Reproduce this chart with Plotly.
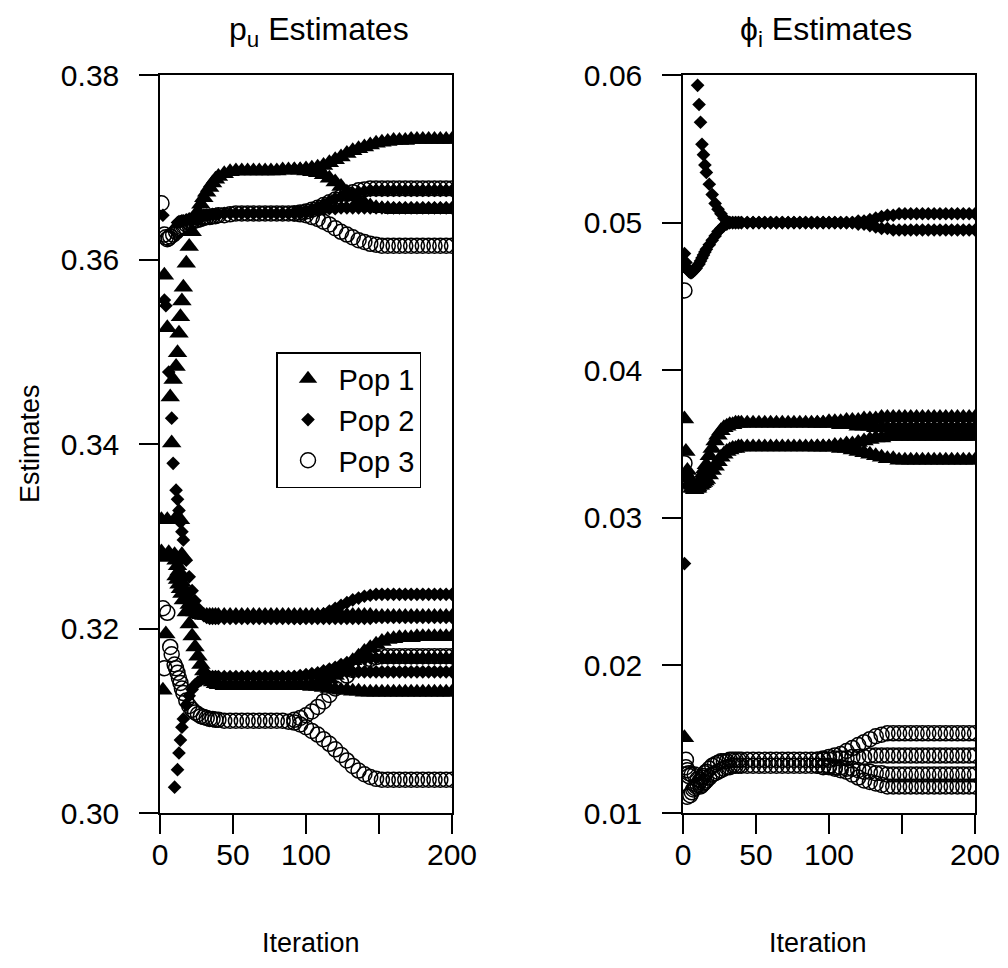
import plotly.graph_objects as go

# ---------------- iteration grids ----------------
TRUNK_IT = [12, 13, 14, 15, 16, 18, 20, 22, 24, 26, 28, 30, 32, 34, 36, 38, 40,
            44, 48, 52, 56, 60, 64, 68, 72, 76, 80, 84, 88]
BRANCH_IT = [92, 96, 100, 104, 108, 112, 116, 120, 124, 128, 132, 136, 140, 144,
             148, 152, 156, 160, 164, 168, 172, 176, 180, 184, 188, 192, 196, 200]

X_TICKS = [0, 50, 100, 150, 200]
X_TICK_TEXT = ["0", "50", "100", "", "200"]
PU_TICKS = [0.30, 0.32, 0.34, 0.36, 0.38]
PU_TICK_TEXT = ["0.30", "0.32", "0.34", "0.36", "0.38"]
PHI_TICKS = [0.01, 0.02, 0.03, 0.04, 0.05, 0.06]
PHI_TICK_TEXT = ["0.01", "0.02", "0.03", "0.04", "0.05", "0.06"]
POP_NAMES = ["Pop 1", "Pop 2", "Pop 3"]

# ---------------- p_u estimates ----------------
# Pop 1
PU_P1_EARLY_IT = [1, 1, 2, 3, 3, 4, 5, 5, 6, 7, 8, 9, 10, 10, 11, 11, 11, 14, 15]
PU_P1_EARLY = [0.3318, 0.3283, 0.3133, 0.3583, 0.3277, 0.3194, 0.3526, 0.3318, 0.3282, 0.3451,
               0.3401, 0.3470, 0.3318, 0.3280, 0.3484, 0.3274, 0.3257, 0.3318, 0.3280]
PU_P1_A_TRUNK = [0.3499, 0.3520, 0.3538, 0.3555, 0.3570, 0.3596, 0.3614, 0.3630, 0.3642, 0.3652,
                 0.3660, 0.3667, 0.3673, 0.3678, 0.3683, 0.3687, 0.3690, 0.3693, 0.3695, 0.3696,
                 0.3696, 0.3696, 0.3696, 0.3696, 0.3696, 0.3696, 0.3696, 0.3697, 0.3697]
PU_P1_A_UP = [0.3697, 0.3697, 0.3698, 0.3699, 0.3700, 0.3702, 0.3705, 0.3708, 0.3711, 0.3715,
              0.3718, 0.3720, 0.3722, 0.3724, 0.3726, 0.3727, 0.3728, 0.3729, 0.3729, 0.3729,
              0.3730, 0.3730, 0.3730, 0.3730, 0.3730, 0.3730, 0.3730, 0.3730]
PU_P1_A_DOWN = [0.3697, 0.3697, 0.3696, 0.3695, 0.3694, 0.3692, 0.3688, 0.3684, 0.3679, 0.3673,
                0.3668, 0.3664, 0.3661, 0.3658, 0.3656, 0.3655, 0.3655, 0.3654, 0.3654, 0.3654,
                0.3654, 0.3654, 0.3654, 0.3654, 0.3654, 0.3654, 0.3654, 0.3654]
PU_P1_B_TRUNK = [0.3268, 0.3262, 0.3256, 0.3250, 0.3244, 0.3234, 0.3226, 0.3221, 0.3218, 0.3216,
                 0.3215, 0.3214, 0.3214, 0.3214, 0.3214, 0.3214, 0.3214, 0.3214, 0.3214, 0.3214,
                 0.3214, 0.3214, 0.3214, 0.3214, 0.3214, 0.3214, 0.3214, 0.3214, 0.3214]
PU_P1_B_FLAT = [0.3214, 0.3214, 0.3214, 0.3214, 0.3214, 0.3214, 0.3214, 0.3214, 0.3214, 0.3214,
                0.3214, 0.3214, 0.3214, 0.3214, 0.3213, 0.3213, 0.3213, 0.3213, 0.3213, 0.3213,
                0.3213, 0.3213, 0.3213, 0.3213, 0.3213, 0.3213, 0.3213, 0.3213]
PU_P1_C_TRUNK = [0.3253, 0.3248, 0.3243, 0.3238, 0.3231, 0.3218, 0.3205, 0.3192, 0.3180, 0.3170,
                 0.3161, 0.3154, 0.3149, 0.3145, 0.3142, 0.3140, 0.3139, 0.3138, 0.3138, 0.3138,
                 0.3138, 0.3138, 0.3138, 0.3138, 0.3138, 0.3138, 0.3138, 0.3138, 0.3138]
PU_P1_C_UP = [0.3138, 0.3138, 0.3138, 0.3139, 0.3140, 0.3142, 0.3145, 0.3149, 0.3154, 0.3159,
              0.3165, 0.3170, 0.3175, 0.3179, 0.3183, 0.3186, 0.3188, 0.3189, 0.3190, 0.3190,
              0.3190, 0.3191, 0.3191, 0.3191, 0.3191, 0.3191, 0.3191, 0.3191]
PU_P1_C_DOWN = [0.3138, 0.3138, 0.3138, 0.3137, 0.3137, 0.3136, 0.3135, 0.3134, 0.3133, 0.3133,
                0.3132, 0.3132, 0.3131, 0.3131, 0.3131, 0.3131, 0.3131, 0.3131, 0.3131, 0.3131,
                0.3131, 0.3131, 0.3131, 0.3131, 0.3131, 0.3131, 0.3131, 0.3131]
# Pop 2
PU_P2_EARLY_IT = [2, 3, 4, 6, 8, 9, 11, 10]
PU_P2_EARLY = [0.3648, 0.3556, 0.3550, 0.3478, 0.3428, 0.3379, 0.3350, 0.3028]
PU_P2_A_TRUNK = [0.3640, 0.3641, 0.3641, 0.3642, 0.3642, 0.3643, 0.3644, 0.3645, 0.3646, 0.3647,
                 0.3647, 0.3648, 0.3648, 0.3648, 0.3649, 0.3649, 0.3649, 0.3650, 0.3650, 0.3650,
                 0.3650, 0.3650, 0.3650, 0.3650, 0.3650, 0.3650, 0.3650, 0.3650, 0.3650]
PU_P2_A_UP = [0.3651, 0.3652, 0.3653, 0.3655, 0.3657, 0.3660, 0.3663, 0.3666, 0.3668, 0.3670,
              0.3672, 0.3673, 0.3674, 0.3675, 0.3675, 0.3675, 0.3675, 0.3675, 0.3675, 0.3675,
              0.3675, 0.3675, 0.3675, 0.3675, 0.3675, 0.3675, 0.3675, 0.3675]
PU_P2_A_FLAT = [0.3650, 0.3650, 0.3651, 0.3652, 0.3653, 0.3654, 0.3655, 0.3655, 0.3656, 0.3656,
                0.3656, 0.3656, 0.3656, 0.3656, 0.3656, 0.3656, 0.3656, 0.3656, 0.3656, 0.3656,
                0.3656, 0.3656, 0.3656, 0.3656, 0.3656, 0.3656, 0.3656, 0.3656]
PU_P2_B_TRUNK = [0.3340, 0.3328, 0.3315, 0.3305, 0.3296, 0.3274, 0.3256, 0.3241, 0.3230, 0.3222,
                 0.3217, 0.3214, 0.3212, 0.3211, 0.3211, 0.3211, 0.3211, 0.3211, 0.3211, 0.3211,
                 0.3211, 0.3211, 0.3211, 0.3211, 0.3211, 0.3211, 0.3211, 0.3211, 0.3211]
PU_P2_B_UP = [0.3211, 0.3211, 0.3212, 0.3213, 0.3214, 0.3216, 0.3219, 0.3222, 0.3225, 0.3228,
              0.3231, 0.3233, 0.3235, 0.3236, 0.3237, 0.3237, 0.3237, 0.3237, 0.3237, 0.3237,
              0.3237, 0.3237, 0.3237, 0.3237, 0.3237, 0.3237, 0.3237, 0.3237]
PU_P2_B_FLAT = [0.3211, 0.3211, 0.3211, 0.3211, 0.3211, 0.3211, 0.3211, 0.3211, 0.3211, 0.3211,
                0.3211, 0.3211, 0.3211, 0.3211, 0.3212, 0.3212, 0.3212, 0.3212, 0.3212, 0.3212,
                0.3212, 0.3212, 0.3212, 0.3212, 0.3212, 0.3212, 0.3212, 0.3212]
PU_P2_C_TRUNK = [0.3047, 0.3065, 0.3079, 0.3093, 0.3102, 0.3117, 0.3127, 0.3134, 0.3139, 0.3142,
                 0.3144, 0.3146, 0.3147, 0.3148, 0.3148, 0.3148, 0.3148, 0.3148, 0.3148, 0.3148,
                 0.3148, 0.3148, 0.3148, 0.3148, 0.3148, 0.3148, 0.3148, 0.3148, 0.3148]
PU_P2_C_UP = [0.3148, 0.3149, 0.3150, 0.3151, 0.3152, 0.3154, 0.3156, 0.3158, 0.3161, 0.3163,
              0.3165, 0.3166, 0.3167, 0.3168, 0.3168, 0.3168, 0.3168, 0.3168, 0.3168, 0.3168,
              0.3168, 0.3168, 0.3168, 0.3168, 0.3168, 0.3168, 0.3168, 0.3168]
PU_P2_C_FLAT = [0.3148, 0.3148, 0.3149, 0.3149, 0.3150, 0.3150, 0.3151, 0.3152, 0.3152, 0.3153,
                0.3153, 0.3153, 0.3153, 0.3153, 0.3153, 0.3153, 0.3153, 0.3153, 0.3153, 0.3153,
                0.3153, 0.3153, 0.3153, 0.3153, 0.3153, 0.3153, 0.3153, 0.3153]
# Pop 3
PU_P3_EARLY_IT = [1, 3, 4, 5, 6, 7, 9, 11, 2, 3, 5, 7, 8, 10, 11]
PU_P3_EARLY = [0.3661, 0.3627, 0.3624, 0.3622, 0.3623, 0.3625, 0.3627, 0.3630, 0.3222, 0.3157,
               0.3217, 0.3180, 0.3172, 0.3161, 0.3157]
PU_P3_A_TRUNK = [0.3632, 0.3633, 0.3634, 0.3635, 0.3636, 0.3638, 0.3640, 0.3641, 0.3642, 0.3643,
                 0.3644, 0.3645, 0.3646, 0.3646, 0.3647, 0.3647, 0.3648, 0.3648, 0.3649, 0.3650,
                 0.3650, 0.3650, 0.3650, 0.3650, 0.3650, 0.3650, 0.3650, 0.3650, 0.3650]
PU_P3_A_UP = [0.3650, 0.3651, 0.3652, 0.3654, 0.3656, 0.3659, 0.3662, 0.3665, 0.3668, 0.3671,
              0.3673, 0.3675, 0.3676, 0.3677, 0.3677, 0.3677, 0.3677, 0.3677, 0.3677, 0.3677,
              0.3677, 0.3677, 0.3677, 0.3677, 0.3677, 0.3677, 0.3677, 0.3677]
PU_P3_A_DOWN = [0.3650, 0.3649, 0.3648, 0.3646, 0.3644, 0.3641, 0.3638, 0.3634, 0.3630, 0.3627,
                0.3624, 0.3621, 0.3619, 0.3617, 0.3616, 0.3615, 0.3615, 0.3615, 0.3615, 0.3615,
                0.3615, 0.3615, 0.3615, 0.3615, 0.3615, 0.3615, 0.3615, 0.3615]
PU_P3_B_TRUNK = [0.3152, 0.3146, 0.3141, 0.3135, 0.3130, 0.3122, 0.3116, 0.3112, 0.3109, 0.3107,
                 0.3105, 0.3104, 0.3103, 0.3102, 0.3102, 0.3101, 0.3101, 0.3100, 0.3100, 0.3100,
                 0.3100, 0.3100, 0.3100, 0.3100, 0.3100, 0.3100, 0.3100, 0.3100, 0.3099]
PU_P3_B_UP = [0.3101, 0.3103, 0.3106, 0.3110, 0.3115, 0.3121, 0.3128, 0.3135, 0.3142, 0.3149,
              0.3155, 0.3160, 0.3164, 0.3167, 0.3169, 0.3170, 0.3170, 0.3170, 0.3170, 0.3170,
              0.3170, 0.3170, 0.3170, 0.3170, 0.3170, 0.3170, 0.3170, 0.3170]
PU_P3_B_DOWN = [0.3098, 0.3096, 0.3093, 0.3089, 0.3085, 0.3080, 0.3075, 0.3069, 0.3063, 0.3057,
                0.3051, 0.3046, 0.3042, 0.3039, 0.3037, 0.3036, 0.3036, 0.3036, 0.3036, 0.3036,
                0.3036, 0.3036, 0.3036, 0.3036, 0.3036, 0.3036, 0.3036, 0.3036]

# ---------------- phi_i estimates ----------------
PHI_P1_EARLY_IT = [1, 1, 2, 3, 4, 5, 6, 7, 8, 9, 10, 11, 2, 4, 6, 8, 10]
PHI_P1_EARLY = [0.0367, 0.0151, 0.0345, 0.0332, 0.0327, 0.0324, 0.0322, 0.0320, 0.0320, 0.0320,
                0.0321, 0.0322, 0.0330, 0.0323, 0.0320, 0.0319, 0.0320]
PHI_P1_A_TRUNK = [0.0324, 0.0327, 0.0330, 0.0333, 0.0336, 0.0342, 0.0347, 0.0352, 0.0356, 0.0359,
                  0.0361, 0.0362, 0.0363, 0.0363, 0.0364, 0.0364, 0.0364, 0.0364, 0.0364, 0.0364,
                  0.0364, 0.0364, 0.0364, 0.0364, 0.0364, 0.0364, 0.0364, 0.0364, 0.0364]
PHI_P1_A_UP = [0.0364, 0.0364, 0.0365, 0.0365, 0.0365, 0.0366, 0.0366, 0.0366, 0.0367, 0.0367,
               0.0367, 0.0368, 0.0368, 0.0368, 0.0368, 0.0368, 0.0368, 0.0368, 0.0368, 0.0368,
               0.0368, 0.0368, 0.0368, 0.0368, 0.0368, 0.0368, 0.0368, 0.0368]
PHI_P1_A_DOWN = [0.0364, 0.0364, 0.0364, 0.0364, 0.0363, 0.0363, 0.0363, 0.0362, 0.0362, 0.0362,
                 0.0361, 0.0361, 0.0361, 0.0361, 0.0361, 0.0361, 0.0361, 0.0361, 0.0361, 0.0361,
                 0.0361, 0.0361, 0.0361, 0.0361, 0.0361, 0.0361, 0.0361, 0.0361]
PHI_P1_B_TRUNK = [0.0322, 0.0323, 0.0324, 0.0325, 0.0326, 0.0329, 0.0332, 0.0335, 0.0338, 0.0341,
                  0.0343, 0.0345, 0.0346, 0.0347, 0.0347, 0.0348, 0.0348, 0.0348, 0.0348, 0.0348,
                  0.0348, 0.0348, 0.0348, 0.0348, 0.0348, 0.0348, 0.0348, 0.0348, 0.0348]
PHI_P1_B_UP = [0.0348, 0.0348, 0.0348, 0.0349, 0.0349, 0.0350, 0.0350, 0.0351, 0.0352, 0.0353,
               0.0354, 0.0354, 0.0355, 0.0355, 0.0355, 0.0355, 0.0355, 0.0355, 0.0355, 0.0355,
               0.0355, 0.0355, 0.0355, 0.0355, 0.0355, 0.0355, 0.0355, 0.0355]
PHI_P1_B_DOWN = [0.0348, 0.0348, 0.0348, 0.0348, 0.0347, 0.0347, 0.0346, 0.0345, 0.0344, 0.0343,
                 0.0342, 0.0341, 0.0340, 0.0340, 0.0339, 0.0339, 0.0339, 0.0339, 0.0339, 0.0339,
                 0.0339, 0.0339, 0.0339, 0.0339, 0.0339, 0.0339, 0.0339, 0.0339]
PHI_P2_EARLY_IT = [1, 10, 11, 1, 2, 3, 4, 5, 6, 7, 8, 9, 10, 11]
PHI_P2_EARLY = [0.0269, 0.0593, 0.0580, 0.0479, 0.0473, 0.0469, 0.0467, 0.0466, 0.0466, 0.0467,
                0.0468, 0.0469, 0.0471, 0.0472]
PHI_P2_A_TRUNK = [0.0568, 0.0553, 0.0546, 0.0539, 0.0534, 0.0526, 0.0519, 0.0513, 0.0509, 0.0506,
                  0.0503, 0.0501, 0.0500, 0.0500, 0.0500, 0.0500, 0.0500, 0.0500, 0.0500, 0.0500,
                  0.0500, 0.0500, 0.0500, 0.0500, 0.0500, 0.0500, 0.0500, 0.0500, 0.0500]
PHI_P2_A_UP = [0.0500, 0.0500, 0.0500, 0.0500, 0.0500, 0.0500, 0.0500, 0.0501, 0.0501, 0.0502,
               0.0503, 0.0504, 0.0505, 0.0505, 0.0506, 0.0506, 0.0506, 0.0506, 0.0506, 0.0506,
               0.0506, 0.0506, 0.0506, 0.0506, 0.0506, 0.0506, 0.0506, 0.0506]
PHI_P2_B_TRUNK = [0.0474, 0.0476, 0.0478, 0.0480, 0.0482, 0.0485, 0.0488, 0.0491, 0.0494, 0.0496,
                  0.0498, 0.0499, 0.0500, 0.0500, 0.0500, 0.0500, 0.0500, 0.0500, 0.0500, 0.0500,
                  0.0500, 0.0500, 0.0500, 0.0500, 0.0500, 0.0500, 0.0500, 0.0500, 0.0500]
PHI_P2_B_DOWN = [0.0500, 0.0500, 0.0500, 0.0500, 0.0500, 0.0500, 0.0500, 0.0499, 0.0499, 0.0498,
                 0.0497, 0.0496, 0.0496, 0.0495, 0.0495, 0.0495, 0.0495, 0.0495, 0.0495, 0.0495,
                 0.0495, 0.0495, 0.0495, 0.0495, 0.0495, 0.0495, 0.0495, 0.0495]
PHI_P3_EARLY_IT = [1, 1, 2, 3, 3, 4, 5, 6, 7, 8, 9, 10, 11, 2, 4, 6, 8, 10]
PHI_P3_EARLY = [0.0454, 0.0337, 0.0136, 0.0129, 0.0111, 0.0127, 0.0112, 0.0114, 0.0116, 0.0117,
                0.0118, 0.0119, 0.0121, 0.0131, 0.0125, 0.0126, 0.0126, 0.0123]
PHI_P3_A_TRUNK = [0.0122, 0.0124, 0.0125, 0.0127, 0.0128, 0.0130, 0.0132, 0.0133, 0.0134, 0.0135,
                  0.0135, 0.0135, 0.0136, 0.0136, 0.0136, 0.0136, 0.0136, 0.0136, 0.0136, 0.0136,
                  0.0136, 0.0136, 0.0136, 0.0136, 0.0136, 0.0136, 0.0136, 0.0136, 0.0136]
PHI_P3_A_UP = [0.0136, 0.0137, 0.0138, 0.0139, 0.0140, 0.0142, 0.0144, 0.0146, 0.0148, 0.0150,
               0.0152, 0.0153, 0.0154, 0.0154, 0.0154, 0.0154, 0.0154, 0.0154, 0.0154, 0.0154,
               0.0154, 0.0154, 0.0154, 0.0154, 0.0154, 0.0154, 0.0154, 0.0154]
PHI_P3_A_DOWN = [0.0136, 0.0136, 0.0136, 0.0137, 0.0137, 0.0137, 0.0138, 0.0138, 0.0138, 0.0139,
                 0.0139, 0.0139, 0.0139, 0.0139, 0.0139, 0.0139, 0.0139, 0.0139, 0.0139, 0.0139,
                 0.0139, 0.0139, 0.0139, 0.0139, 0.0139, 0.0139, 0.0139, 0.0139]
PHI_P3_B_TRUNK = [0.0118, 0.0119, 0.0120, 0.0121, 0.0122, 0.0124, 0.0126, 0.0127, 0.0128, 0.0129,
                  0.0130, 0.0131, 0.0131, 0.0132, 0.0132, 0.0132, 0.0132, 0.0132, 0.0132, 0.0132,
                  0.0132, 0.0132, 0.0132, 0.0132, 0.0132, 0.0132, 0.0132, 0.0132, 0.0132]
PHI_P3_B_UP = [0.0132, 0.0132, 0.0132, 0.0131, 0.0131, 0.0130, 0.0130, 0.0129, 0.0128, 0.0128,
               0.0127, 0.0127, 0.0126, 0.0126, 0.0126, 0.0126, 0.0126, 0.0126, 0.0126, 0.0126,
               0.0126, 0.0126, 0.0126, 0.0126, 0.0126, 0.0126, 0.0126, 0.0126]
PHI_P3_B_DOWN = [0.0132, 0.0131, 0.0131, 0.0130, 0.0129, 0.0128, 0.0126, 0.0124, 0.0122, 0.0121,
                 0.0120, 0.0119, 0.0118, 0.0118, 0.0118, 0.0118, 0.0118, 0.0118, 0.0118, 0.0118,
                 0.0118, 0.0118, 0.0118, 0.0118, 0.0118, 0.0118, 0.0118, 0.0118]


def collect(early_it, early_v, groups):
    """groups: list of (trunk, [branch, ...])"""
    xs, ys = list(early_it), list(early_v)
    for trunk, branches in groups:
        assert len(trunk) == len(TRUNK_IT), len(trunk)
        xs += TRUNK_IT
        ys += trunk
        for br in branches:
            assert len(br) == len(BRANCH_IT), len(br)
            xs += BRANCH_IT
            ys += br
    return xs, ys


PU_DATA = [
    collect(PU_P1_EARLY_IT, PU_P1_EARLY, [(PU_P1_A_TRUNK, [PU_P1_A_UP, PU_P1_A_DOWN]),
                                          (PU_P1_B_TRUNK, [PU_P1_B_FLAT]),
                                          (PU_P1_C_TRUNK, [PU_P1_C_UP, PU_P1_C_DOWN])]),
    collect(PU_P2_EARLY_IT, PU_P2_EARLY, [(PU_P2_A_TRUNK, [PU_P2_A_UP, PU_P2_A_FLAT]),
                                          (PU_P2_B_TRUNK, [PU_P2_B_UP, PU_P2_B_FLAT]),
                                          (PU_P2_C_TRUNK, [PU_P2_C_UP, PU_P2_C_FLAT])]),
    collect(PU_P3_EARLY_IT, PU_P3_EARLY, [(PU_P3_A_TRUNK, [PU_P3_A_UP, PU_P3_A_DOWN]),
                                          (PU_P3_B_TRUNK, [PU_P3_B_UP, PU_P3_B_DOWN])]),
]
PHI_DATA = [
    collect(PHI_P1_EARLY_IT, PHI_P1_EARLY, [(PHI_P1_A_TRUNK, [PHI_P1_A_UP, PHI_P1_A_DOWN]),
                                            (PHI_P1_B_TRUNK, [PHI_P1_B_UP, PHI_P1_B_DOWN])]),
    collect(PHI_P2_EARLY_IT, PHI_P2_EARLY, [(PHI_P2_A_TRUNK, [PHI_P2_A_UP]),
                                            (PHI_P2_B_TRUNK, [PHI_P2_B_DOWN])]),
    collect(PHI_P3_EARLY_IT, PHI_P3_EARLY, [(PHI_P3_A_TRUNK, [PHI_P3_A_UP, PHI_P3_A_DOWN]),
                                            (PHI_P3_B_TRUNK, [PHI_P3_B_UP, PHI_P3_B_DOWN])]),
]

MARKERS = [
    dict(symbol="triangle-up", size=17, color="black", line=dict(width=0)),
    dict(symbol="diamond", size=10.5, color="black", line=dict(width=0)),
    dict(symbol="circle-open", size=15, color="black", line=dict(width=1.5, color="black")),
]

# The page body has an 8px margin, so the figure is drawn 8px in from the window edge.
OFF = 8
W, H = 1008 - 2 * OFF, 968 - 2 * OFF
FONT = "Liberation Sans, Arial, Helvetica, sans-serif"


def fx(px):
    return (px - OFF) / W


def fy(py):
    return 1 - (py - OFF) / H


fig = go.Figure()
for k in range(3):
    xs, ys = PU_DATA[k]
    fig.add_trace(go.Scatter(x=xs, y=ys, mode="markers", marker=MARKERS[k], name=POP_NAMES[k],
                             legendgroup=POP_NAMES[k], showlegend=True, xaxis="x", yaxis="y",
                             hoverinfo="skip"))
for k in range(3):
    xs, ys = PHI_DATA[k]
    fig.add_trace(go.Scatter(x=xs, y=ys, mode="markers", marker=MARKERS[k], name=POP_NAMES[k],
                             legendgroup=POP_NAMES[k], showlegend=False, xaxis="x2", yaxis="y2",
                             hoverinfo="skip"))

axis_common = dict(showline=True, linecolor="black", linewidth=1.5, mirror=True,
                   ticks="outside", ticklen=19, tickwidth=1.5, tickcolor="black",
                   showgrid=False, zeroline=False, automargin=False, ticklabeloverflow="allow",
                   tickfont=dict(size=30, color="black", family=FONT))

y_dom = [fy(813), fy(75)]
fig.update_layout(
    width=W, height=H,
    margin=dict(l=0, r=0, t=0, b=0, pad=0, autoexpand=False),
    paper_bgcolor="white", plot_bgcolor="white",
    font=dict(family=FONT, size=27, color="black"),
    xaxis=dict(domain=[fx(160), fx(452)], range=[0, 200], tickvals=X_TICKS, ticktext=X_TICK_TEXT,
               anchor="y", ticklabelstandoff=-5, **axis_common),
    yaxis=dict(domain=y_dom, range=[0.30, 0.38], tickvals=PU_TICKS, ticktext=PU_TICK_TEXT,
               anchor="x", ticklabelstandoff=14, **axis_common),
    xaxis2=dict(domain=[fx(683), fx(975)], range=[0, 200], tickvals=X_TICKS, ticktext=X_TICK_TEXT,
                anchor="y2", ticklabelstandoff=-5, **axis_common),
    yaxis2=dict(domain=y_dom, range=[0.01, 0.06], tickvals=PHI_TICKS, ticktext=PHI_TICK_TEXT,
                anchor="x2", ticklabelstandoff=14, **axis_common),
    showlegend=True,
    legend=dict(x=fx(276), y=fy(352), xanchor="left", yanchor="top",
                bordercolor="black", borderwidth=1.5, bgcolor="white", itemwidth=51,
                font=dict(size=29, family=FONT, color="black"), tracegroupgap=0),
    annotations=[
        dict(text="p<sub>u</sub> Estimates", x=fx(319), y=fy(8.5), xref="paper", yref="paper",
             xanchor="center", yanchor="top", showarrow=False, font=dict(size=32)),
        dict(text="\u03d5<sub>i</sub> Estimates", x=fx(826), y=fy(8.5), xref="paper", yref="paper",
             xanchor="center", yanchor="top", showarrow=False, font=dict(size=32)),
        dict(text="Iteration", x=fx(311), y=fy(959.5), xref="paper", yref="paper",
             xanchor="center", yanchor="bottom", showarrow=False, font=dict(size=27)),
        dict(text="Iteration", x=fx(818), y=fy(959.5), xref="paper", yref="paper",
             xanchor="center", yanchor="bottom", showarrow=False, font=dict(size=27)),
        dict(text="Estimates", x=fx(30), y=fy(444), xref="paper", yref="paper",
             xanchor="center", yanchor="middle", showarrow=False, textangle=-90, font=dict(size=27)),
    ],
)

fig.write_html("out.html")
